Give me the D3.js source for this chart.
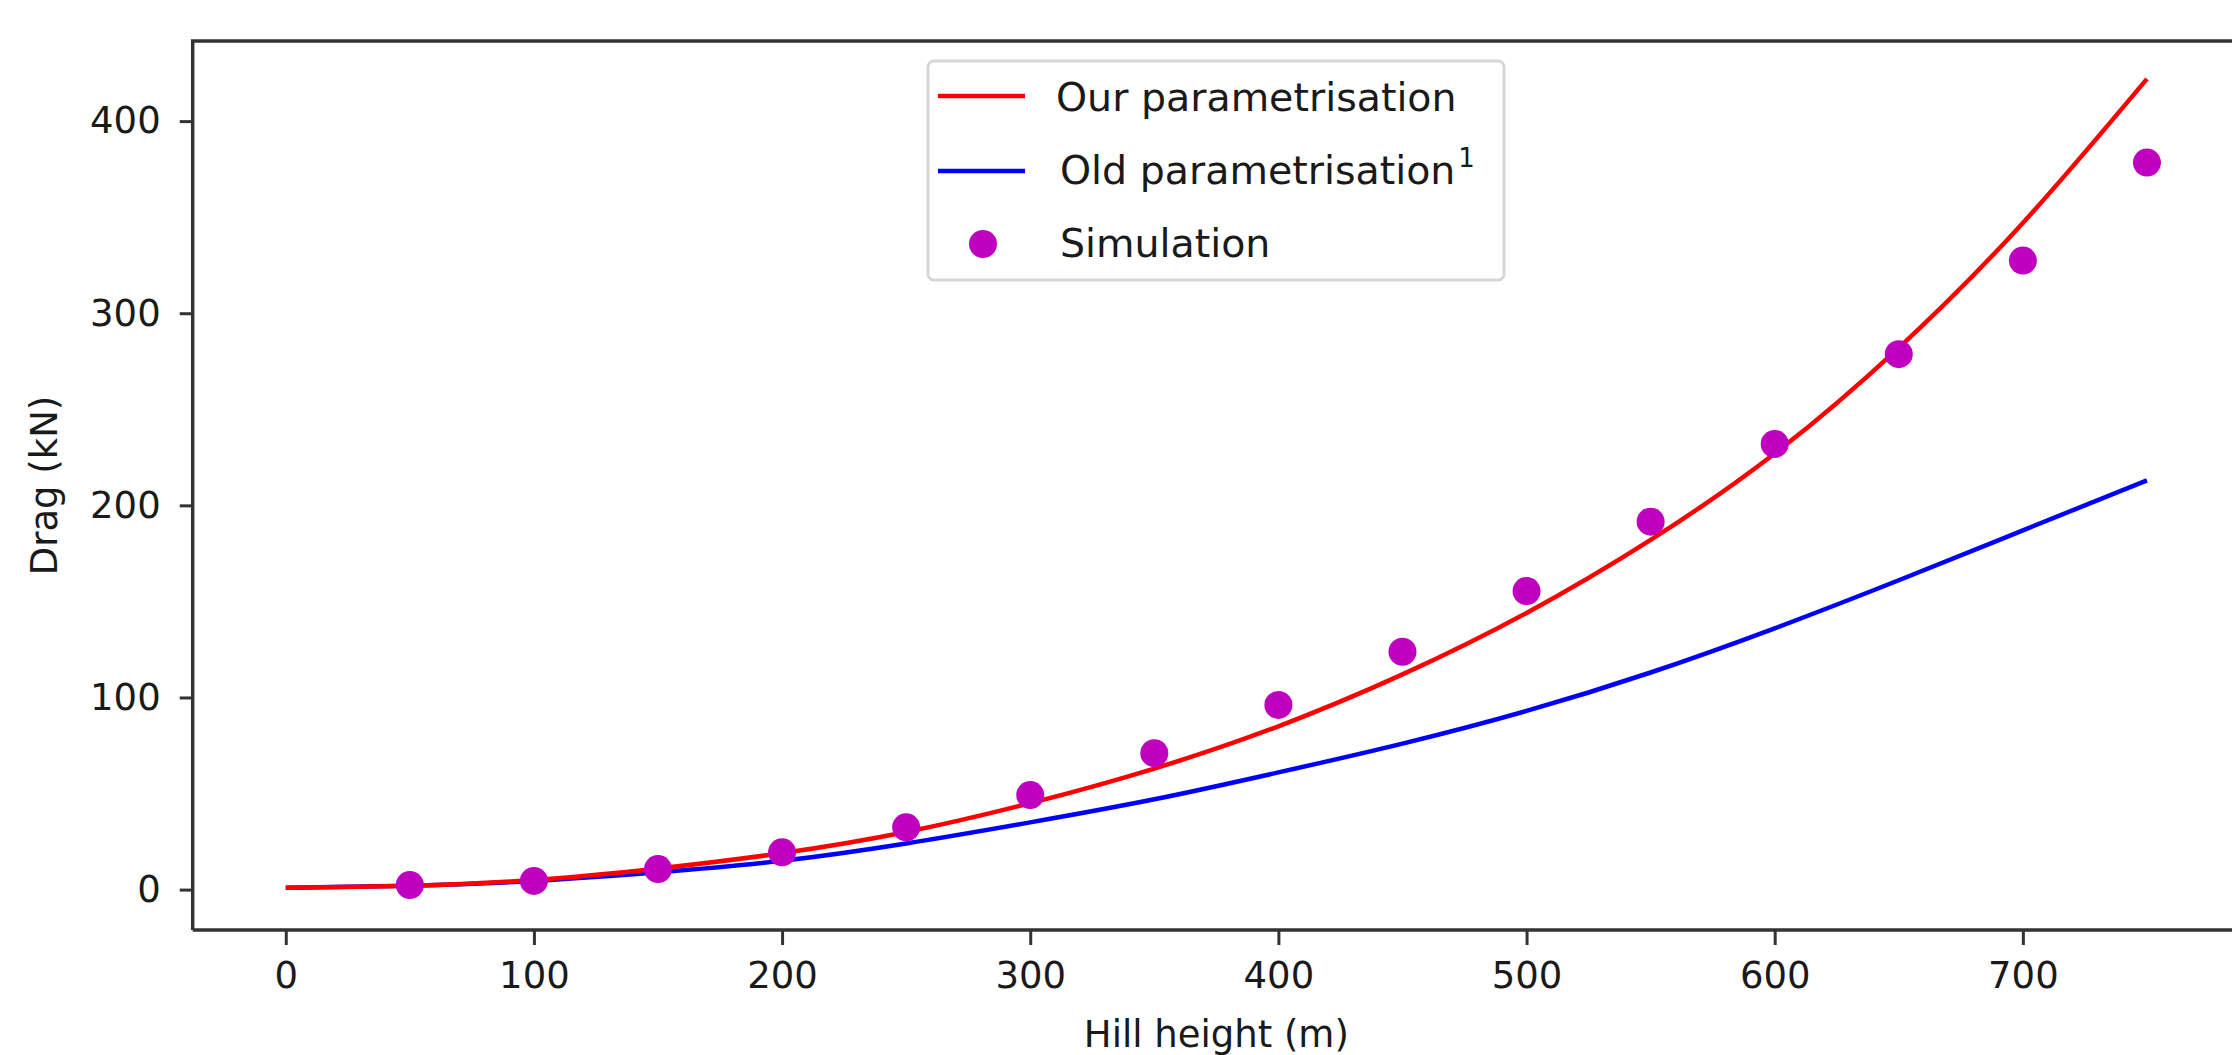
<!DOCTYPE html>
<html>
<head>
<meta charset="utf-8">
<script src="https://cdn.jsdelivr.net/npm/d3@7"></script>
<style>
  body { margin: 0; background: #fff; }
  text { font-family: "DejaVu Sans", sans-serif; fill: #1a1a1a; }
  .tick text { font-size: 37px; }
  .domain { display: none; }
  .tick line { stroke: #333; stroke-width: 3; }
</style>
</head>
<body>
<div id="chart"></div>
<script>
// hill heights used for curves and simulation points
var heights = [0, 50, 100, 150, 200, 250, 300, 350, 400, 450, 500, 550, 600, 650, 700, 750];
var ourParam = [1, 2, 5, 11, 19, 30, 45, 63, 85, 112, 144, 182, 227, 282, 347, 422];
var oldParam = [1, 2, 4.5, 9, 15, 24, 35, 47, 61, 76, 93, 113, 136, 161, 187, 213];

var simHeights = [50, 100, 150, 200, 250, 300, 350, 400, 450, 500, 550, 600, 650, 700, 750];
var simDrag = [2.4, 4.5, 10.7, 19.4, 32.4, 49.2, 71, 96.1, 123.8, 155.4, 191.5, 232, 278.7, 327.4, 378.4];

var xTicks = [0, 100, 200, 300, 400, 500, 600, 700];
var yTicks = [0, 100, 200, 300, 400];

var legendLabels = ["Our parametrisation", "Old parametrisation", "Simulation"];

function drawChart() {
  var svgWidth = 2232;
  var svgHeight = 1055;
  var plot = {left: 192.7, right: 2240, top: 41, bottom: 930};

  var svg = d3.select("#chart")
    .append("svg")
    .attr("width", svgWidth)
    .attr("height", svgHeight);

  // scales (matplotlib style 5% margins)
  var xScale = d3.scaleLinear()
    .domain([-37.5, 787.5])
    .range([plot.left, plot.right]);

  var yScale = d3.scaleLinear()
    .domain([-21.03, 441.7])
    .range([plot.bottom, plot.top]);

  // axes
  svg.append("g")
    .attr("transform", `translate(0, ${plot.bottom})`)
    .call(d3.axisBottom(xScale).tickValues(xTicks).tickSize(15).tickPadding(17).tickFormat(d3.format("d")));

  svg.append("g")
    .attr("transform", `translate(${plot.left}, 0)`)
    .call(d3.axisLeft(yScale).tickValues(yTicks).tickSize(13).tickPadding(19).tickFormat(d3.format("d")));

  // curves
  var line = d3.line()
    .x(d => xScale(d[0]))
    .y(d => yScale(d[1]))
    .curve(d3.curveNatural);

  svg.append("path")
    .datum(heights.map((h, i) => [h, oldParam[i]]))
    .attr("d", line)
    .attr("fill", "none")
    .attr("stroke", "#0000ff")
    .attr("stroke-width", 4.5);

  svg.append("path")
    .datum(heights.map((h, i) => [h, ourParam[i]]))
    .attr("d", line)
    .attr("fill", "none")
    .attr("stroke", "#ff0000")
    .attr("stroke-width", 4.5);

  // simulation points
  svg.selectAll("circle.sim")
    .data(simHeights.map((h, i) => [h, simDrag[i]]))
    .enter()
    .append("circle")
    .attr("class", "sim")
    .attr("cx", d => xScale(d[0]))
    .attr("cy", d => yScale(d[1]))
    .attr("r", 14)
    .attr("fill", "#bf00bf");

  // spines (left, top, bottom)
  svg.append("path")
    .attr("d", `M${plot.left},${plot.bottom}V${plot.top}H${svgWidth}M${plot.left},${plot.bottom}H${svgWidth}`)
    .attr("fill", "none")
    .attr("stroke", "#333")
    .attr("stroke-width", 3.5);

  // axis labels
  svg.append("text")
    .attr("transform", `translate(57, ${(plot.top + plot.bottom) / 2}) rotate(-90)`)
    .attr("text-anchor", "middle")
    .style("font-size", "37px")
    .text("Drag (kN)");

  svg.append("text")
    .attr("x", (plot.left + plot.right) / 2)
    .attr("y", 1047)
    .attr("text-anchor", "middle")
    .style("font-size", "37px")
    .text("Hill height (m)");

  // legend
  var legend = svg.append("g");
  legend.append("rect")
    .attr("x", 928).attr("y", 61)
    .attr("width", 576).attr("height", 219)
    .attr("rx", 6)
    .attr("fill", "#fff")
    .attr("stroke", "#d6d6d6")
    .attr("stroke-width", 3);

  var rows = [96, 171, 244];
  var baselines = [111, 184, 257];
  legend.append("line")
    .attr("x1", 938).attr("x2", 1025).attr("y1", rows[0]).attr("y2", rows[0])
    .attr("stroke", "#ff0000").attr("stroke-width", 4.5);
  legend.append("line")
    .attr("x1", 938).attr("x2", 1025).attr("y1", rows[1]).attr("y2", rows[1])
    .attr("stroke", "#0000ff").attr("stroke-width", 4.5);
  legend.append("circle")
    .attr("cx", 983).attr("cy", rows[2]).attr("r", 14)
    .attr("fill", "#bf00bf");

  var labels = legend.selectAll("text.lab")
    .data(legendLabels)
    .enter()
    .append("text")
    .attr("class", "lab")
    .attr("x", (d, i) => i == 0 ? 1056 : 1060)
    .attr("y", (d, i) => baselines[i])
    .style("font-size", "39.5px")
    .text(d => d);

  // superscript reference mark after the old parametrisation
  labels.filter((d, i) => i == 1)
    .append("tspan")
    .attr("dx", 3)
    .attr("dy", -17)
    .style("font-size", "26px")
    .text("1");
}

drawChart();
</script>
</body>
</html>
